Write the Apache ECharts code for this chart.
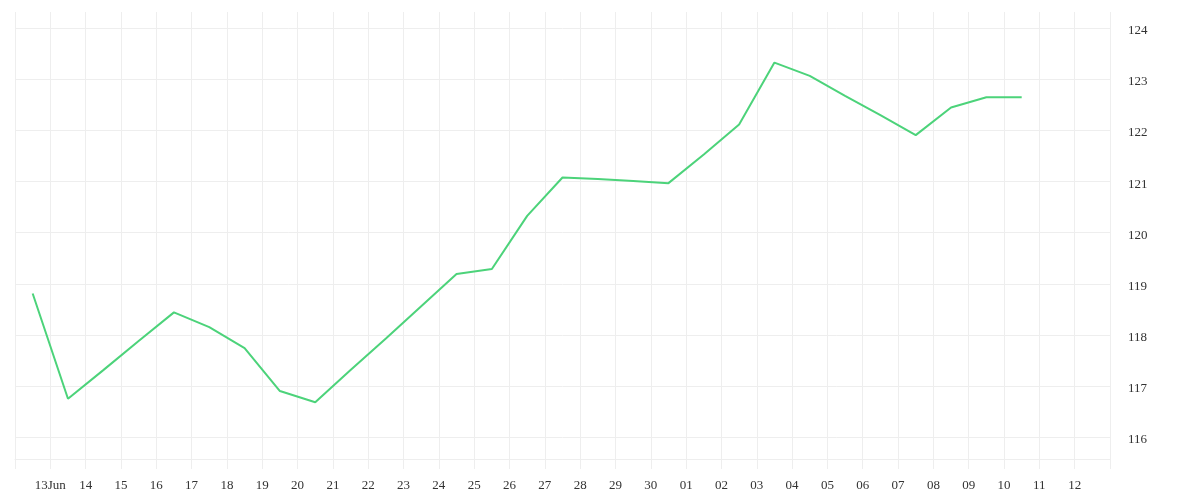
<!DOCTYPE html>
<html>
<head>
<meta charset="utf-8">
<script src="https://cdn.jsdelivr.net/npm/echarts@6/dist/echarts.min.js"></script>
<style>
  html, body { margin: 0; padding: 0; background: #fff; }
  #chart { width: 1200px; height: 500px; }
</style>
</head>
<body>
<div id="chart"></div>
<script>
// day ticks: 12 Jun .. 13 Jul (index = days since 12 Jun)
var tickLabels = ['', '13Jun', '14', '15', '16', '17', '18', '19', '20', '21', '22', '23', '24',
  '25', '26', '27', '28', '29', '30', '01', '02', '03', '04', '05', '06', '07', '08', '09',
  '10', '11', '12', ''];

// one value per day, 12 Jun .. 10 Jul, plotted at midday
var dates = ['12 Jun', '13 Jun', '14 Jun', '15 Jun', '16 Jun', '17 Jun', '18 Jun', '19 Jun',
  '20 Jun', '21 Jun', '22 Jun', '23 Jun', '24 Jun', '25 Jun', '26 Jun', '27 Jun', '28 Jun',
  '29 Jun', '30 Jun', '01 Jul', '02 Jul', '03 Jul', '04 Jul', '05 Jul', '06 Jul', '07 Jul',
  '08 Jul', '09 Jul', '10 Jul'];
var values = [118.81, 116.75, 117.31, 117.88, 118.44, 118.15, 117.74, 116.90,
  116.68, 117.31, 117.93, 118.56, 119.19, 119.29, 120.33, 121.08, 121.05,
  121.01, 120.97, 121.53, 122.12, 123.33, 123.07, 122.68, 122.30, 121.91,
  122.45, 122.65, 122.65];

var chart = echarts.init(document.getElementById('chart'));

var seriesData = values.map(function (v, i) {
  return { name: dates[i], value: [i + 0.5, v] };
});

var gridColor = '#eeeeee';
var textStyle = { color: '#333', fontFamily: 'Liberation Serif', fontSize: 13 };

chart.setOption({
  backgroundColor: '#ffffff',
  animation: false,
  grid: { left: 15, right: 90, top: 12, bottom: 41 },
  xAxis: {
    type: 'value',
    min: 0,
    max: tickLabels.length - 1,
    interval: 1,
    axisLine: { show: true, lineStyle: { color: gridColor } },
    axisTick: { show: true, length: 10, lineStyle: { color: gridColor } },
    splitLine: { show: true, lineStyle: { color: gridColor } },
    axisLabel: Object.assign({
      margin: 20,
      formatter: function (v) { return tickLabels[Math.round(v)] || ''; }
    }, textStyle)
  },
  yAxis: {
    type: 'value',
    position: 'right',
    min: 115.57,
    max: 124.32,
    splitNumber: 8,
    axisLine: { show: false },
    axisTick: { show: false },
    splitLine: { show: true, showMaxLine: false, lineStyle: { color: gridColor } },
    axisLabel: Object.assign({
      margin: 18,
      verticalAlign: 'top',
      padding: [-4, 0, 0, 0],
      showMinLabel: false,
      showMaxLabel: false
    }, textStyle)
  },
  series: [{
    type: 'line',
    data: seriesData,
    showSymbol: false,
    symbol: 'none',
    lineStyle: { color: '#4cd37a', width: 2 },
    itemStyle: { color: '#4cd37a' }
  }]
});
</script>
</body>
</html>
